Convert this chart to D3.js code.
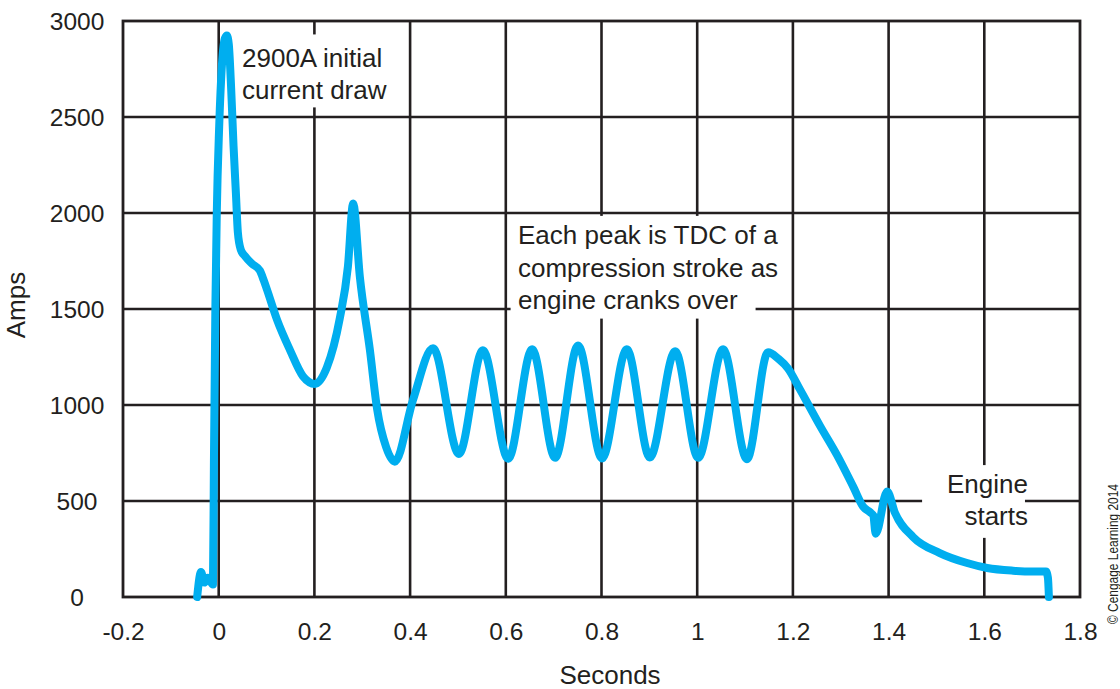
<!DOCTYPE html>
<html>
<head>
<meta charset="utf-8">
<script src="https://cdn.jsdelivr.net/npm/d3@7"></script>
<style>
  html, body { margin: 0; padding: 0; background: #fff; }
  svg { display: block; }
  text { font-family: "Liberation Sans", Arial, Helvetica, sans-serif; fill: #231f20; }
</style>
</head>
<body>
<svg id="chart" width="1120" height="689"></svg>
<script>
// ---- data ----
const timeS = [
  -0.045, -0.037, -0.030, -0.023, -0.012, -0.010, -0.007, -0.004, 0.001, 0.007,
  0.013, 0.017, 0.021, 0.026, 0.031, 0.036, 0.040, 0.046, 0.055, 0.070,
  0.086, 0.094, 0.101, 0.122, 0.149, 0.176, 0.201, 0.226, 0.253, 0.270,
  0.281, 0.295, 0.316, 0.331, 0.350, 0.368, 0.406, 0.448, 0.502, 0.552,
  0.605, 0.655, 0.703, 0.751, 0.801, 0.853, 0.901, 0.954, 1.002, 1.054,
  1.104, 1.148, 1.170, 1.190, 1.215, 1.257, 1.292, 1.326, 1.347, 1.362,
  1.368, 1.373, 1.397, 1.413, 1.451, 1.507, 1.564, 1.606, 1.660, 1.700,
  1.729, 1.733, 1.735
];
const amps = [
  0, 130, 75, 100, 65, 700, 1500, 2000, 2450, 2780,
  2910, 2925, 2880, 2650, 2350, 2100, 1900, 1810, 1775, 1735,
  1700, 1650, 1600, 1443, 1286, 1150, 1110, 1195, 1450, 1720,
  2050, 1667, 1286, 980, 780, 705, 1026, 1295, 745, 1285,
  720, 1290, 725, 1310, 722, 1290, 727, 1280, 725, 1290,
  718, 1275, 1240, 1190, 1080, 890, 740, 575, 470, 440,
  425, 330, 550, 440, 313, 229, 177, 151, 137, 133,
  133, 100, 0
];
const xTickValues = [-0.2, 0, 0.2, 0.4, 0.6, 0.8, 1, 1.2, 1.4, 1.6, 1.8];
const xTickLabels = ["-0.2", "0", "0.2", "0.4", "0.6", "0.8", "1", "1.2", "1.4", "1.6", "1.8"];
const yTickValues = [0, 500, 1000, 1500, 2000, 2500, 3000];
const yTickLabels = ["0", "500", "1000", "1500", "2000", "2500", "3000"];
const xGridValues = [0, 0.2, 0.4, 0.6, 0.8, 1, 1.2, 1.4, 1.6];
const yGridValues = [500, 1000, 1500, 2000, 2500];
const xTitle = "Seconds";
const yTitle = "Amps";
const noteInitial = ["2900A initial", "current draw"];
const notePeaks = ["Each peak is TDC of a", "compression stroke as", "engine cranks over"];
const noteStart = ["Engine", "starts"];
const credit = "© Cengage Learning 2014";

// ---- layout ----
const ink = "#231f20";
const svg = d3.select("#chart");
const x = d3.scaleLinear().domain([-0.2, 1.8]).range([123, 1080]);
const y = d3.scaleLinear().domain([0, 3000]).range([597, 21]);

// grid
const grid = svg.append("g").attr("stroke", ink).attr("stroke-width", 2.6);
grid.selectAll("line.v").data(xGridValues).join("line")
  .attr("x1", d => x(d)).attr("x2", d => x(d))
  .attr("y1", y(3000)).attr("y2", y(0));
grid.selectAll("line.h").data(yGridValues).join("line")
  .attr("x1", x(-0.2)).attr("x2", x(1.8))
  .attr("y1", d => y(d)).attr("y2", d => y(d));

// white boxes behind annotations (mask gridlines)
const boxes = [
  {x0: 0.034, x1: 0.37, y0: 2930, y1: 2550},
  {x0: 0.61, x1: 1.122, y0: 1985, y1: 1450},
  {x0: 1.47, x1: 1.685, y0: 687, y1: 308}
];
svg.append("g").selectAll("rect").data(boxes).join("rect")
  .attr("x", d => x(d.x0)).attr("width", d => x(d.x1) - x(d.x0))
  .attr("y", d => y(d.y0)).attr("height", d => y(d.y1) - y(d.y0))
  .attr("fill", "#fff");

// frame
svg.append("rect")
  .attr("x", x(-0.2)).attr("y", y(3000))
  .attr("width", x(1.8) - x(-0.2)).attr("height", y(0) - y(3000))
  .attr("fill", "none").attr("stroke", ink).attr("stroke-width", 2.8);

// axes (labels only)
const xAxis = d3.axisBottom(x).tickValues(xTickValues)
  .tickFormat((d, i) => xTickLabels[i]).tickSize(0).tickPadding(26);
const gx = svg.append("g").attr("transform", `translate(0,${y(0)})`).call(xAxis);
gx.select(".domain").remove();
gx.selectAll("text").attr("font-size", 24.5).attr("font-family", null).attr("fill", ink);

const yAxis = d3.axisLeft(y).tickValues(yTickValues)
  .tickFormat((d, i) => yTickLabels[i]).tickSize(0).tickPadding(0);
const gy = svg.append("g").attr("transform", `translate(${x(-0.2)},0)`).call(yAxis);
gy.select(".domain").remove();
gy.selectAll("text").attr("font-size", 24.5).attr("font-family", null).attr("fill", ink)
  .attr("text-anchor", "middle").attr("x", -46).attr("dy", "0.35em");

// titles
svg.append("text").attr("x", 610).attr("y", 684).attr("text-anchor", "middle")
  .attr("font-size", 26).text(xTitle);
svg.append("text").attr("transform", "translate(25,305) rotate(-90)")
  .attr("text-anchor", "middle").attr("font-size", 26).text(yTitle);

// curve
const pts = timeS.map((t, i) => [t, amps[i]]);
const line = d3.line().x(d => x(d[0])).y(d => y(d[1])).curve(d3.curveMonotoneX);
svg.append("path").attr("d", line(pts))
  .attr("fill", "none").attr("stroke", "#00aeef").attr("stroke-width", 8)
  .attr("stroke-linejoin", "round").attr("stroke-linecap", "round");

// annotations
function note(lines, px, py, anchor, lh) {
  const t = svg.append("text").attr("font-size", 26).attr("text-anchor", anchor);
  lines.forEach((s, i) => t.append("tspan").attr("x", px).attr("y", py + i * lh).text(s));
}
note(noteInitial, 242, 67, "start", 32);
note(notePeaks, 518, 244, "start", 32.5);
note(noteStart, 1028, 493, "end", 32);

// credit
svg.append("text").attr("transform", "translate(1118,554) rotate(-90)")
  .attr("text-anchor", "middle")
  .attr("font-family", "'Liberation Sans Narrow', 'Liberation Sans', Arial, sans-serif")
  .attr("font-size", 15).attr("fill", "#333")
  .attr("textLength", 140).attr("lengthAdjust", "spacingAndGlyphs")
  .text(credit);
</script>
</body>
</html>
